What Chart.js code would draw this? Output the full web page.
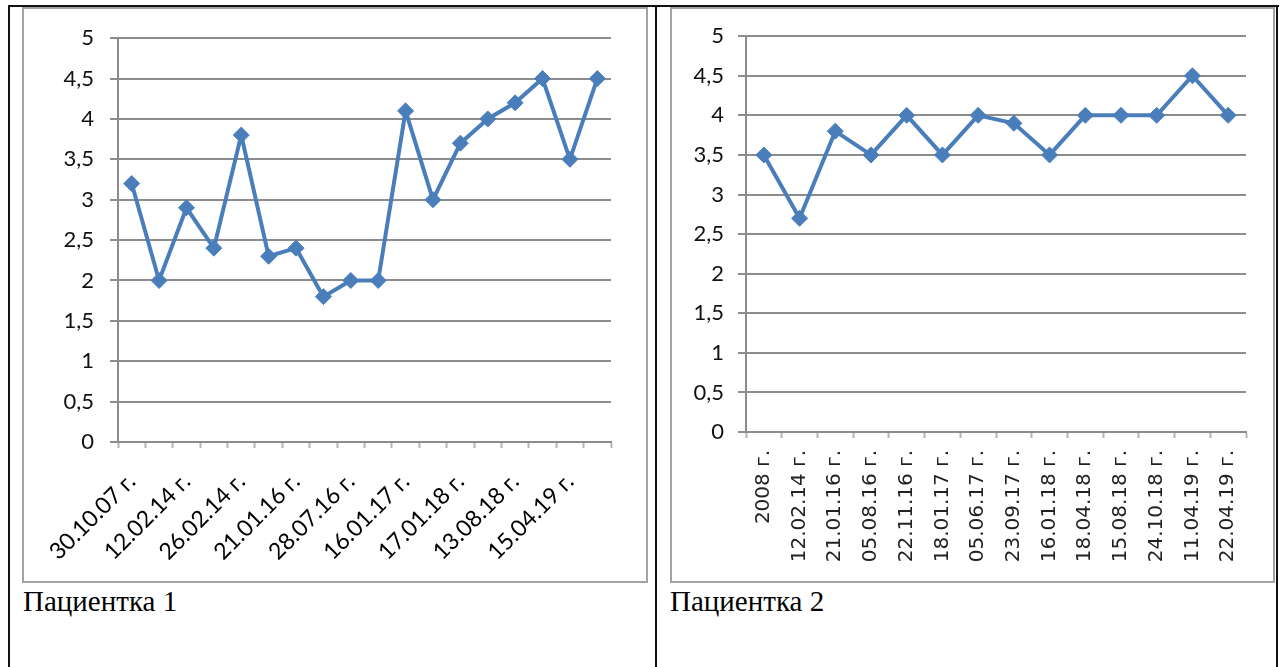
<!DOCTYPE html>
<html lang="ru">
<head>
<meta charset="utf-8">
<title>Пациентка 1, Пациентка 2</title>
<script src="https://cdn.jsdelivr.net/npm/chart.js@4.4.1/dist/chart.umd.min.js"></script>
<style>
  html, body { margin: 0; padding: 0; background: #fff; }
  body { width: 1284px; height: 667px; position: relative; overflow: hidden; }
  .rule { position: absolute; background: #111; }
  .frame { position: absolute; box-sizing: border-box; border: 2px solid #a3a3a3; background: #fff; }
  .plot { position: absolute; }
  .caption { position: absolute; font-family: "Liberation Serif", "Times New Roman", serif; font-size: 29px; color: #000; line-height: 1; }
</style>
</head>
<body>
<!-- table rules -->
<div class="rule" style="left:8px; top:5px; width:1271px; height:2px;"></div>
<div class="rule" style="left:8px; top:5px; width:2px; height:662px;"></div>
<div class="rule" style="left:655px; top:5px; width:2px; height:662px;"></div>
<div class="rule" style="left:1276px; top:5px; width:2px; height:662px;"></div>

<div class="frame" style="left:22px; top:7px; width:626px; height:576px;"></div>
<div class="frame" style="left:670px; top:7px; width:605px; height:576px;"></div>

<div class="plot" style="left:24px; top:9px; width:622px; height:572px;"><canvas id="chart1"></canvas></div>
<div class="plot" style="left:672px; top:9px; width:601px; height:572px;"><canvas id="chart2"></canvas></div>

<div class="caption" style="left:23px; top:587px;">Пациентка 1</div>
<div class="caption" style="left:670px; top:587px;">Пациентка 2</div>

<script>
// Patient 1: every other date is printed under the axis
const patient1Dates = [
  '30.10.07 г.', '', '12.02.14 г.', '', '26.02.14 г.', '', '21.01.16 г.', '',
  '28.07.16 г.', '', '16.01.17 г.', '', '17.01.18 г.', '', '13.08.18 г.', '',
  '15.04.19 г.', ''
];
const patient1Values = [3.2, 2.0, 2.9, 2.4, 3.8, 2.3, 2.4, 1.8, 2.0, 2.0, 4.1, 3.0, 3.7, 4.0, 4.2, 4.5, 3.5, 4.5];

// Patient 2
const patient2Dates = [
  '2008 г.', '12.02.14 г.', '21.01.16 г.', '05.08.16 г.', '22.11.16 г.', '18.01.17 г.', '05.06.17 г.',
  '23.09.17 г.', '16.01.18 г.', '18.04.18 г.', '15.08.18 г.', '24.10.18 г.', '11.04.19 г.', '22.04.19 г.'
];
const patient2Values = [3.5, 2.7, 3.8, 3.5, 4.0, 3.5, 4.0, 3.9, 3.5, 4.0, 4.0, 4.0, 4.5, 4.0];

// shared value axis
const yMin = 0;
const yMax = 5;
const yStep = 0.5;

const LINE = '#4a7ebb';
const GRID = '#8c8c8c';

function makeChart(id, labels, values, cfg) {
  return new Chart(document.getElementById(id), {
    type: 'line',
    data: {
      labels: labels,
      datasets: [{
        data: values,
        borderColor: LINE,
        backgroundColor: LINE,
        borderWidth: 4,
        pointStyle: 'rectRot',
        pointRadius: 8,
        pointBorderWidth: 1,
        pointBorderColor: LINE,
        pointBackgroundColor: LINE,
        tension: 0,
        fill: false
      }]
    },
    options: {
      responsive: true,
      maintainAspectRatio: false,
      animation: false,
      events: [],
      layout: { padding: { top: cfg.padTop, right: cfg.padRight, left: 0, bottom: 0 } },
      plugins: { legend: { display: false }, tooltip: { enabled: false } },
      scales: {
        x: {
          offset: true,
          grid: {
            offset: true,
            drawOnChartArea: false,
            drawTicks: true,
            tickLength: 6,
            tickWidth: 2,
            tickColor: '#b5b5b5'
          },
          border: { display: true, color: GRID, width: 2 },
          ticks: {
            autoSkip: false,
            minRotation: cfg.rotation,
            maxRotation: cfg.rotation,
            padding: cfg.xPad,
            color: cfg.xColor,
            font: cfg.xFont
          },
          afterFit: s => { s.height = cfg.xHeight; }
        },
        y: {
          min: yMin,
          max: yMax,
          ticks: {
            stepSize: yStep,
            padding: cfg.yPad,
            color: '#111',
            font: { family: 'Lato', size: 22 },
            callback: v => String(v).replace('.', ',')
          },
          grid: {
            color: GRID,
            lineWidth: 2,
            drawTicks: true,
            tickLength: 8
          },
          border: { display: true, color: GRID, width: 2 },
          afterFit: s => { s.width = cfg.yWidth; }
        }
      }
    }
  });
}

makeChart('chart1', patient1Dates, patient1Values, {
  padTop: 27, padRight: 35, yWidth: 94, xHeight: 139,
  rotation: 45, xPad: 20, xColor: '#000',
  xFont: { family: 'Lato', size: 23 }, yPad: 16
});

makeChart('chart2', patient2Dates, patient2Values, {
  padTop: 27, padRight: 27, yWidth: 74, xHeight: 149,
  rotation: 90, xPad: 12, xColor: '#222',
  xFont: { family: 'DejaVu Sans', size: 20 }, yPad: 14
});
</script>
</body>
</html>
